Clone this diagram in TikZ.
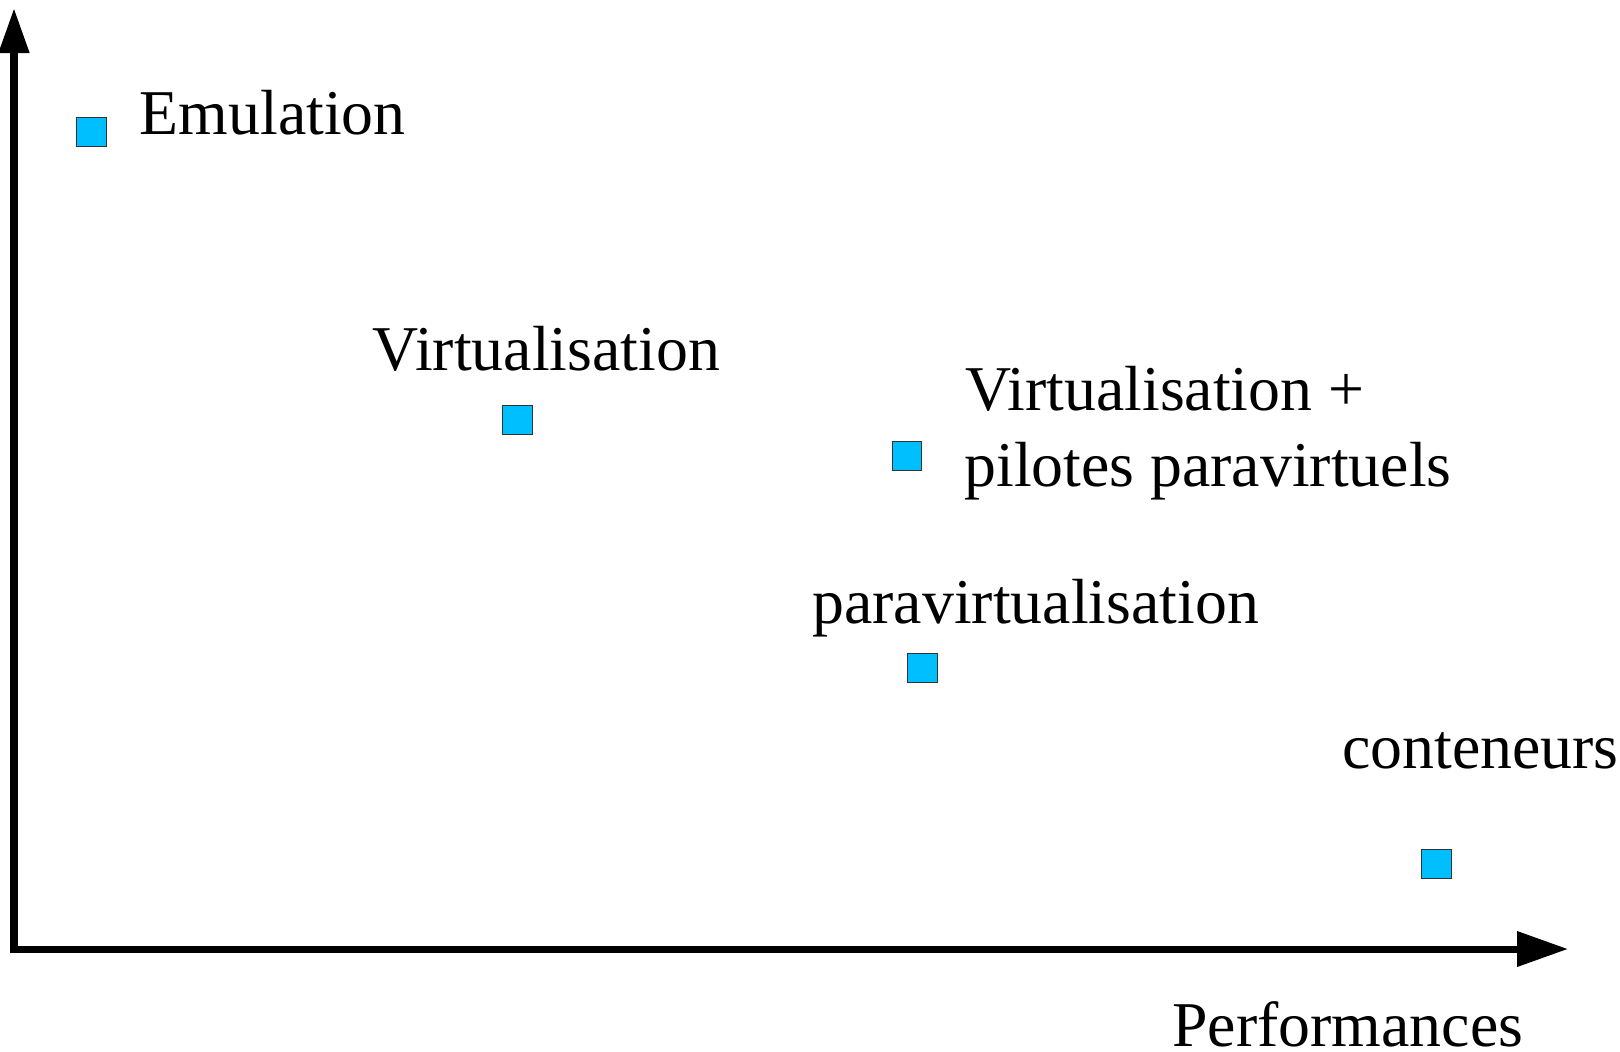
\documentclass[tikz,border=0pt]{standalone}
\usepackage{fontspec}
\setmainfont{Liberation Serif}
\usetikzlibrary{arrows.meta}
\definecolor{ptfill}{HTML}{00BFFF}
\definecolor{ptline}{HTML}{333333}
\begin{document}
\begin{tikzpicture}[x=0.5pt,y=-0.5pt,
  pt/.style={rectangle,draw=ptline,line width=0.6pt,fill=ptfill,minimum size=14.8pt,inner sep=0pt},
  lbl/.style={anchor=base west,inner sep=0pt,font=\fontsize{31.9}{38}\selectfont},
  axis/.style={line width=3.8pt}]
\useasboundingbox (0,0) rectangle (1620,1051);
\coordinate (origin) at (14,949);
\coordinate (ytip) at (14,8);
\coordinate (xtip) at (1568,949);
\coordinate (ystart) at (14,952);
\coordinate (xstart) at (10,949);
\draw[axis,-{Triangle[length=22.5pt,width=14.5pt]}] (ystart) -- (ytip);
\draw[axis,line width=3.5pt,-{Triangle[length=25.5pt,width=17pt]}] (xstart) -- (xtip);

\node[pt] (emu) at (91.5,132) {};
\node[pt] (virt) at (517.5,420) {};
\node[pt] (virtpv) at (907,456) {};
\node[pt] (para) at (922.5,668) {};
\node[pt] (cont) at (1436.5,864) {};

\node[lbl] (temu) at (139.5,134) {Emulation};
\node[lbl] (tvirt) at (372.5,370) {Virtualisation};
\node[lbl] (tvirtpv1) at (965,410) {Virtualisation +};
\node[lbl] (tvirtpv2) at (964,486) {pilotes paravirtuels};
\node[lbl] (tpara) at (812,623) {paravirtualisation};
\node[lbl] (tcont) at (1342,768) {conteneurs};
\node[lbl] (tperf) at (1172,1046) {Performances};
\end{tikzpicture}
\end{document}
